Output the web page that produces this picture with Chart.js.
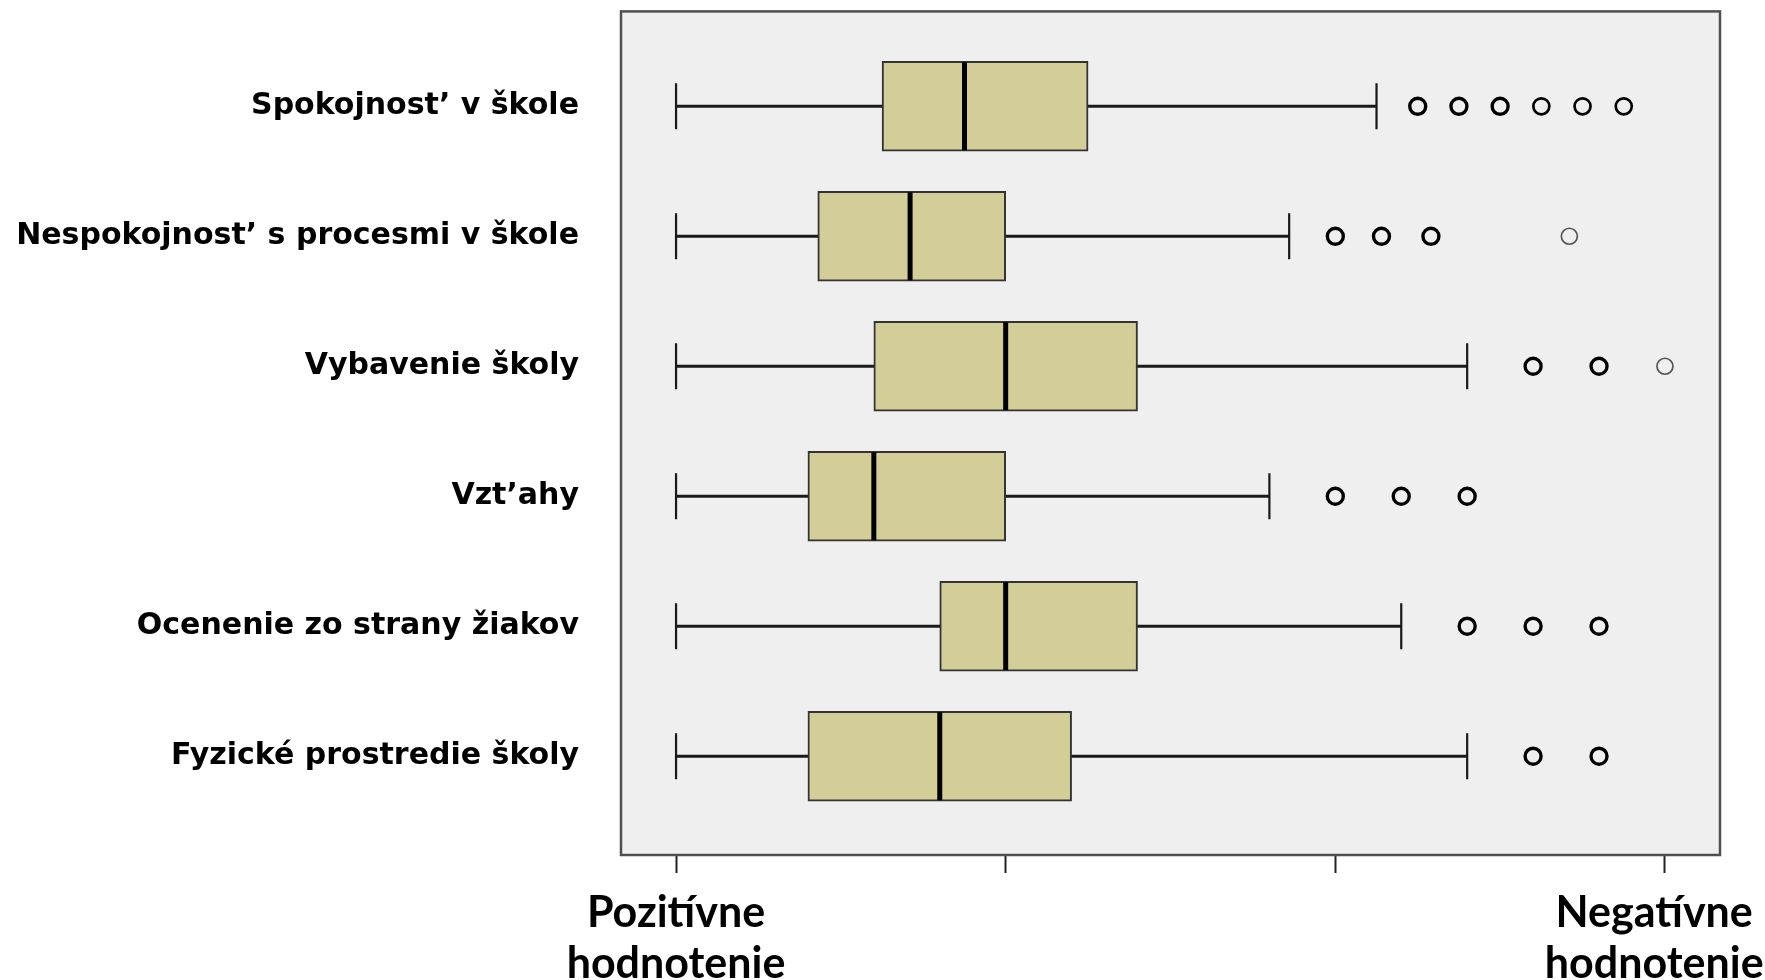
<!DOCTYPE html>
<html>
<head>
<meta charset="utf-8">
<script src="https://cdn.jsdelivr.net/npm/chart.js@4.4.0/dist/chart.umd.min.js"></script>
<style>
  html, body { margin: 0; padding: 0; background: #fff; }
</style>
</head>
<body>
<canvas id="boxChart" width="1765" height="980"></canvas>
<script>
// rows, top to bottom
const categories = [
  "Spokojnost\u2019 v škole",
  "Nespokojnost\u2019 s procesmi v škole",
  "Vybavenie školy",
  "Vzt\u2019ahy",
  "Ocenenie zo strany žiakov",
  "Fyzické prostredie školy"
];

// five-number summaries (ticks = 1..4)
const whiskerLow  = [1,     1,    1,   1,   1,   1];
const q1          = [1.625, 1.43, 1.6, 1.4, 1.8, 1.4];
const median      = [1.875, 1.71, 2.0, 1.6, 2.0, 1.8];
const q3          = [2.25,  2.0,  2.4, 2.0, 2.4, 2.2];
const whiskerHigh = [3.125, 2.86, 3.4, 2.8, 3.2, 3.4];

const outliers = [
  [3.25, 3.375, 3.5, 3.625, 3.75, 3.875],
  [3.0, 3.14, 3.29, 3.71],
  [3.6, 3.8, 4.0],
  [3.0, 3.2, 3.4],
  [3.4, 3.6, 3.8],
  [3.6, 3.8]
];
// outliers drawn with a lighter ring
const lightOutliers = [[0, 3.625], [0, 3.75], [0, 3.875]];
const faintOutliers = [[1, 3.71], [2, 4.0]];

const xTicks = [1, 2, 3, 4];
// the right label sits a little left of its tick, hence the trailing en space
const xTickLabels = [["Pozitívne", "hodnotenie"], "", "", ["Negatívne\u2002", "hodnotenie\u2002"]];

const outlierPoints = outliers.flatMap((vals, i) => vals.map(v => ({ x: v, y: i })));
const inList = (list, p) => list.some(f => f[0] === p.y && f[1] === p.x);
const ringWidth = c => {
  if (!c.raw) return 3.4;
  if (inList(faintOutliers, c.raw)) return 1.7;
  if (inList(lightOutliers, c.raw)) return 2.7;
  return 3.4;
};

const boxParts = {
  id: "boxParts",
  beforeDatasetsDraw(chart) {
    const { ctx, chartArea: a, scales: { x, y } } = chart;
    ctx.save();
    ctx.fillStyle = "#efefef";
    ctx.fillRect(a.left, a.top, a.width, a.height);

    ctx.strokeStyle = "#1a1a1a";
    categories.forEach((_, i) => {
      const cy = y.getPixelForValue(i);
      const lo = x.getPixelForValue(whiskerLow[i]);
      const hi = x.getPixelForValue(whiskerHigh[i]);
      ctx.lineWidth = 3;
      ctx.beginPath();
      ctx.moveTo(lo, cy);
      ctx.lineTo(hi, cy);
      ctx.stroke();
      ctx.lineWidth = 2.2;
      ctx.beginPath();
      ctx.moveTo(lo, cy - 23);
      ctx.lineTo(lo, cy + 23);
      ctx.moveTo(hi, cy - 23);
      ctx.lineTo(hi, cy + 23);
      ctx.stroke();
    });
    ctx.restore();
  },
  afterDatasetsDraw(chart) {
    const { ctx, chartArea: a, scales: { x, y } } = chart;
    ctx.save();
    ctx.strokeStyle = "#000";
    ctx.lineWidth = 5;
    categories.forEach((_, i) => {
      const cy = y.getPixelForValue(i);
      const m = x.getPixelForValue(median[i]);
      ctx.beginPath();
      ctx.moveTo(m, cy - 44);
      ctx.lineTo(m, cy + 44);
      ctx.stroke();
    });
    ctx.strokeStyle = "#4f4f4f";
    ctx.lineWidth = 2.5;
    ctx.strokeRect(a.left, a.top, a.width, a.height);
    ctx.restore();
  }
};

new Chart(document.getElementById("boxChart"), {
  type: "bar",
  data: {
    datasets: [
      {
        type: "bar",
        label: "IQR",
        data: q1.map((v, i) => ({ x: [v, q3[i]], y: i })),
        backgroundColor: "#d3ce98",
        borderColor: "#333333",
        borderWidth: 2,
        borderSkipped: false,
        barThickness: 90
      },
      {
        type: "scatter",
        label: "Outliers",
        indexAxis: "x",
        data: outlierPoints,
        pointStyle: "circle",
        pointRadius: 8,
        pointBackgroundColor: "rgba(0,0,0,0)",
        pointBorderColor: c => (c.raw && inList(faintOutliers, c.raw)) ? "#555" : "#000",
        pointBorderWidth: ringWidth
      }
    ]
  },
  options: {
    indexAxis: "y",
    responsive: false,
    animation: false,
    layout: { padding: { top: 11, right: 45, left: 0, bottom: 0 } },
    plugins: { legend: { display: false }, tooltip: { enabled: false } },
    scales: {
      x: {
        type: "linear",
        min: 0.833,
        max: 4.167,
        offset: false,
        afterBuildTicks: ax => { ax.ticks = xTicks.map(v => ({ value: v })); },
        afterFit: s => { s.height = 125; s.paddingLeft = 0; s.paddingRight = 0; },
        ticks: {
          callback: (v, i) => xTickLabels[i],
          autoSkip: false,
          maxRotation: 0,
          color: "#000",
          padding: 15,
          font: { family: "Lato, 'Open Sans', sans-serif", weight: "bold", size: 43, lineHeight: 1.18 }
        },
        grid: { drawOnChartArea: false, drawTicks: true, tickLength: 18, tickColor: "#222", tickWidth: 2 },
        border: { display: false }
      },
      y: {
        type: "linear",
        reverse: true,
        offset: false,
        min: -0.73,
        max: 5.76,
        afterBuildTicks: ax => { ax.ticks = categories.map((_, i) => ({ value: i })); },
        afterFit: s => { s.width = 621; s.paddingTop = 0; s.paddingBottom = 0; },
        ticks: {
          callback: v => categories[v],
          autoSkip: false,
          color: "#000",
          padding: 34,
          font: { family: "'DejaVu Sans', sans-serif", weight: "bold", size: 30 }
        },
        grid: { display: false, offset: false },
        border: { display: false }
      }
    }
  },
  plugins: [boxParts]
});
</script>
</body>
</html>
